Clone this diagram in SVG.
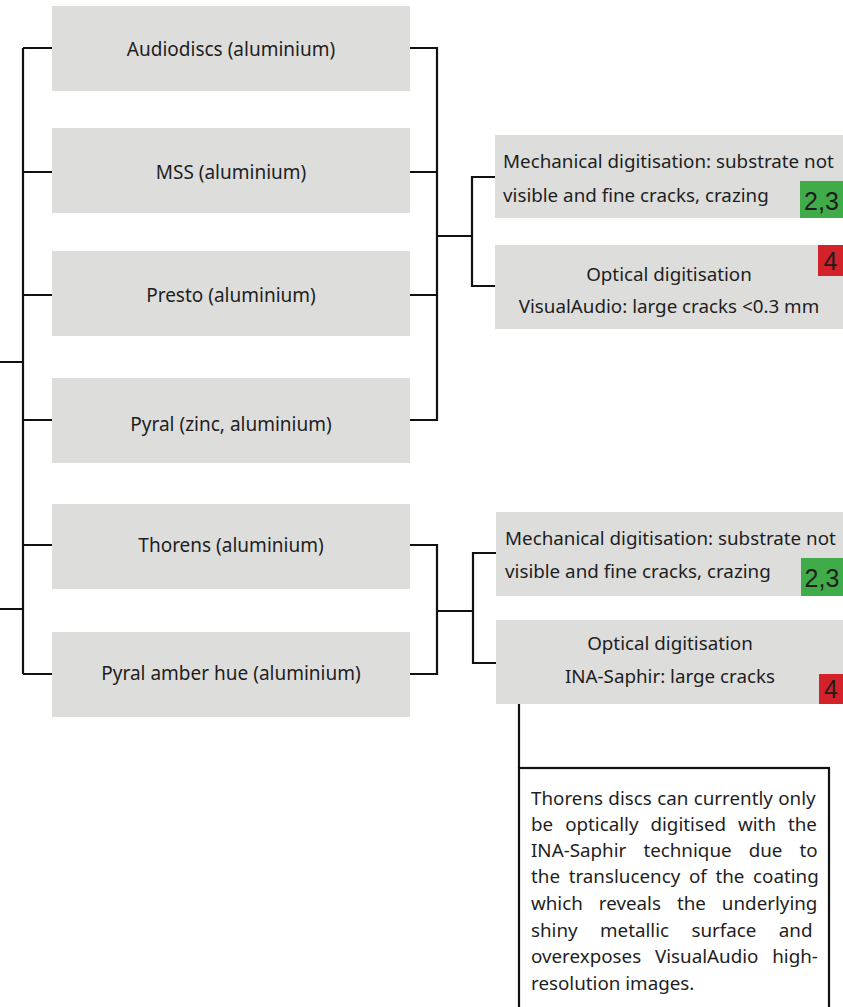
<svg xmlns="http://www.w3.org/2000/svg" width="843" height="1007" viewBox="0 0 843 1007">
<style>
.box{fill:#dddddc}
.t{font-family:"Noto Sans","Open Sans",sans-serif;font-size:19px;fill:#1e1e1e}
.s{font-size:18.8px}
.c{text-anchor:middle}
.b{font-family:"Liberation Sans",Arial,sans-serif;font-size:25px;fill:#1e1e1e;text-anchor:middle}
.g{fill:#3fab49}
.r{fill:#d3222a}
.ln{fill:none;stroke:#111;stroke-width:2.2}
</style>
<rect width="843" height="1007" fill="#fff"/>
<g id="connectors" class="ln">
<path d="M0,362H23M0,609H23M23,48V674"/>
<path d="M23,48H52M23,172H52M23,295H52M23,420H52M23,545H52M23,674H52"/>
<path d="M410,48H437V420H410M410,172H437M410,295H437"/>
<path d="M437,236H472M495,177H472V286H495"/>
<path d="M410,545H437V674H410M437,611H473M496,553H473V663H496"/>
<path d="M519,704V768"/>
</g>
<g id="n1"><rect class="box" x="52" y="6" width="358" height="85"/><text class="t c" x="231" y="56">Audiodiscs (aluminium)</text></g>
<g id="n2"><rect class="box" x="52" y="128" width="358" height="85"/><text class="t c" x="231" y="179">MSS (aluminium)</text></g>
<g id="n3"><rect class="box" x="52" y="251" width="358" height="85"/><text class="t c" x="231" y="302">Presto (aluminium)</text></g>
<g id="n4"><rect class="box" x="52" y="378" width="358" height="85"/><text class="t c" x="231" y="431">Pyral (zinc, aluminium)</text></g>
<g id="n5"><rect class="box" x="52" y="504" width="358" height="85"/><text class="t c" x="231" y="552">Thorens (aluminium)</text></g>
<g id="n6"><rect class="box" x="52" y="632" width="358" height="85"/><text class="t c" x="231" y="680">Pyral amber hue (aluminium)</text></g>
<g id="m1"><rect class="box" x="495" y="135" width="348" height="83"/>
<text class="t s" x="503" y="168">Mechanical digitisation: substrate not</text>
<text class="t s" x="503" y="202">visible and fine cracks, crazing</text>
<rect class="g" x="800" y="181" width="43" height="37"/><text class="b" x="821.5" y="210">2,3</text></g>
<g id="o1"><rect class="box" x="495" y="245" width="348" height="84"/>
<text class="t s c" x="669" y="281">Optical digitisation</text>
<text class="t s c" x="669" y="313">VisualAudio: large cracks &lt;0.3 mm</text>
<rect class="r" x="818" y="245" width="25" height="31"/><text class="b" x="830.5" y="270">4</text></g>
<g id="m2"><rect class="box" x="496" y="512" width="347" height="84"/>
<text class="t s" x="505" y="545">Mechanical digitisation: substrate not</text>
<text class="t s" x="505" y="578">visible and fine cracks, crazing</text>
<rect class="g" x="801" y="558" width="42" height="38"/><text class="b" x="822" y="587">2,3</text></g>
<g id="o2"><rect class="box" x="496" y="620" width="347" height="84"/>
<text class="t s c" x="670" y="650">Optical digitisation</text>
<text class="t s c" x="670" y="683">INA-Saphir: large cracks</text>
<rect class="r" x="819" y="674" width="24" height="30"/><text class="b" x="831" y="698">4</text></g>
<g id="note"><rect x="519" y="768" width="310" height="250" fill="#fff" stroke="#111" stroke-width="2.2"/>
<text class="t s" x="531" y="805" word-spacing="0.5">Thorens discs can currently only</text>
<text class="t s" x="531" y="831" word-spacing="7.1">be optically digitised with the</text>
<text class="t s" x="531" y="857" word-spacing="12.2">INA-Saphir technique due to</text>
<text class="t s" x="531" y="883" word-spacing="3.8">the translucency of the coating</text>
<text class="t s" x="531" y="910" word-spacing="11.1">which reveals the underlying</text>
<text class="t s" x="531" y="937" word-spacing="17.5">shiny metallic surface and</text>
<text class="t s" x="531" y="963" word-spacing="8.9">overexposes VisualAudio high-</text>
<text class="t s" x="531" y="990">resolution images.</text>
</g>
</svg>
